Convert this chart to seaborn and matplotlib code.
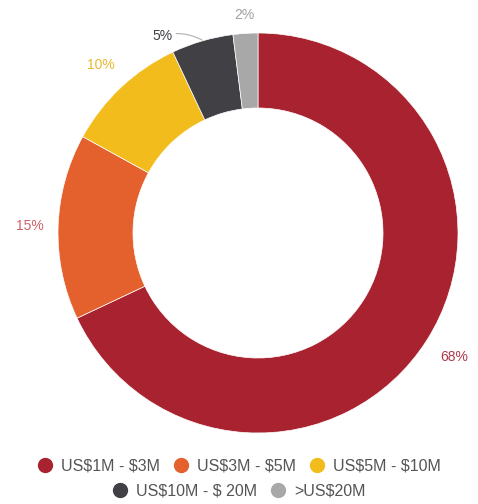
import numpy as np
import matplotlib
matplotlib.use("Agg")
import matplotlib.pyplot as plt
import seaborn as sns
from matplotlib.lines import Line2D

categories = ["US$1M - $3M", "US$3M - $5M", "US$5M - $10M", "US$10M - $ 20M", ">US$20M"]
values = [68, 15, 10, 5, 2]
pct_labels = ["68%", "15%", "10%", "5%", "2%"]
colors = ["#A8232F", "#E4612E", "#F2BD1C", "#404045", "#A8A8A8"]
label_colors = ["#B0384A", "#D0606A", "#E8B830", "#404045", "#A0A0A0"]

sns.set_theme(style="white")
plt.rcParams['font.family'] = ['Liberation Sans', 'DejaVu Sans']
plt.rcParams['text.parse_math'] = False

fig = plt.figure(figsize=(4.78, 5.04), dpi=100)
ax = fig.add_axes([58/478, 71/504, 400/478, 400/504])
wedges, _ = ax.pie(values, colors=colors, startangle=90, counterclock=False,
                   radius=1.0, wedgeprops=dict(width=0.375, edgecolor="white", linewidth=0.5))
ax.set_xlim(-1, 1)
ax.set_ylim(-1, 1)
ax.set_aspect("equal")
ax.axis("off")

label_r = [1.16, 1.14, 1.15, 1.10, 1.09]
angle_shift = [0, 0, 0, 10, 0]
for w, lab, col, r, sh in zip(wedges, pct_labels, label_colors, label_r, angle_shift):
    ang = np.deg2rad((w.theta1 + w.theta2) / 2 + sh)
    x, y = r * np.cos(ang), r * np.sin(ang)
    ha = "center"
    if sh:
        ha = "right"
        x += 0.06
        mid = np.deg2rad((w.theta1 + w.theta2) / 2)
        ax.annotate(lab, xy=(1.005 * np.cos(mid), 1.005 * np.sin(mid)), xytext=(x, y),
                    ha=ha, va="center", fontsize=10, color=col, annotation_clip=False,
                    arrowprops=dict(arrowstyle="-", color="#B0B0B0", lw=0.8,
                                    connectionstyle="arc3,rad=-0.2", shrinkA=0, shrinkB=0))
    else:
        ax.text(x, y, lab, ha=ha, va="center", fontsize=10, color=col, clip_on=False)

def handles(idx):
    return [Line2D([0], [0], marker="o", linestyle="", markersize=10,
                   markerfacecolor=colors[i], markeredgecolor=colors[i]) for i in idx]

kw = dict(frameon=False, fontsize=11.5, handletextpad=0.5, columnspacing=0.8,
          labelcolor="#555555", handlelength=1.0, borderaxespad=0)
leg1 = fig.legend(handles([0, 1, 2]), categories[:3], ncol=3, loc="center",
                  bbox_to_anchor=(0.5, 1 - 466/504), **kw)
leg2 = fig.legend(handles([3, 4]), categories[3:], ncol=2, loc="center",
                  bbox_to_anchor=(0.5, 1 - 491/504), **kw)

fig.savefig("out.png", dpi=100, facecolor="white")
